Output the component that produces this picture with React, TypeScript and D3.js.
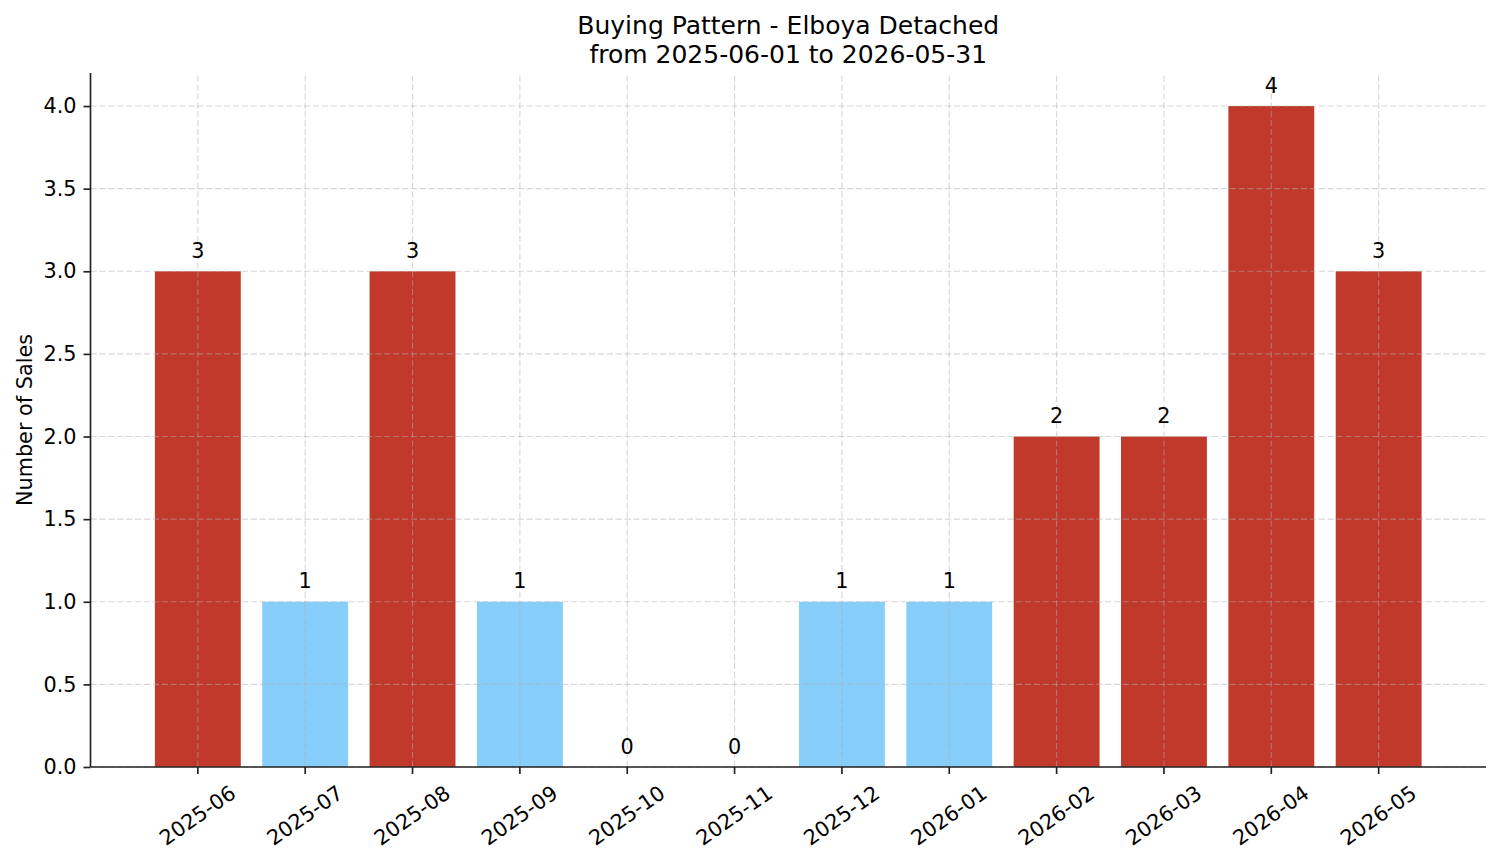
import React, { useEffect, useRef } from 'react';
import * as d3 from 'd3';

const months = [
  '2025-06', '2025-07', '2025-08', '2025-09', '2025-10', '2025-11',
  '2025-12', '2026-01', '2026-02', '2026-03', '2026-04', '2026-05',
];
const sales = [3, 1, 3, 1, 0, 0, 1, 1, 2, 2, 4, 3];
const yTicks = [0, 0.5, 1, 1.5, 2, 2.5, 3, 3.5, 4];

const titleLines = ['Buying Pattern - Elboya Detached', 'from 2025-06-01 to 2026-05-31'];
const yLabel = 'Number of Sales';

const HIGH = '#c0392b';
const LOW = '#87cefa';

const App: React.FC = () => {
  const svgRef = useRef<SVGSVGElement | null>(null);
  const width = 1501;
  const height = 863;
  const marginLeft = 90.5;
  const marginRight = 15;
  const marginTop = 73;
  const marginBottom = 96;
  const font = 'DejaVu Sans, sans-serif';
  const fs = 20.8;

  useEffect(() => {
    const svg = d3.select(svgRef.current);
    svg.selectAll('*').remove();

    const x = d3.scaleLinear()
      .domain([-1, months.length])
      .range([marginLeft, width - marginRight]);
    const y = d3.scaleLinear()
      .domain([0, 4.2])
      .range([height - marginBottom, marginTop]);
    const barW = (x(0.8) - x(0));

    // Bars
    svg.append('g')
      .selectAll('rect')
      .data(sales)
      .join('rect')
      .attr('x', (_, i) => x(i) - barW / 2)
      .attr('y', d => y(d))
      .attr('width', barW)
      .attr('height', d => y(0) - y(d))
      .attr('fill', d => (d >= 2 ? HIGH : LOW));

    // Grid (drawn over bars, like matplotlib)
    const grid = svg.append('g')
      .attr('stroke', '#b0b0b0')
      .attr('stroke-opacity', 0.5)
      .attr('stroke-width', 1.1)
      .attr('stroke-dasharray', '6.2,2.7');
    grid.selectAll('line.h')
      .data(yTicks)
      .join('line')
      .attr('class', 'h')
      .attr('x1', marginLeft)
      .attr('x2', width - marginRight)
      .attr('y1', d => y(d))
      .attr('y2', d => y(d));
    grid.selectAll('line.v')
      .data(months)
      .join('line')
      .attr('class', 'v')
      .attr('x1', (_, i) => x(i))
      .attr('x2', (_, i) => x(i))
      .attr('y1', y(0))
      .attr('y2', marginTop);

    // Value labels
    svg.append('g')
      .selectAll('text')
      .data(sales)
      .join('text')
      .attr('x', (_, i) => x(i))
      .attr('y', d => y(d) - 13.5)
      .attr('text-anchor', 'middle')
      .attr('font-family', font)
      .attr('font-size', fs)
      .attr('fill', '#000')
      .text(d => String(d));

    // Y axis
    const yAxis = svg.append('g')
      .attr('transform', `translate(${marginLeft},0)`)
      .call(d3.axisLeft(y).tickValues(yTicks).tickFormat(d3.format('.1f')).tickSize(7).tickPadding(7).tickSizeOuter(0));
    yAxis.select('.domain').remove();
    yAxis.selectAll('.tick line').attr('stroke', '#222').attr('stroke-width', 1.67);
    yAxis.selectAll('.tick text')
      .attr('font-family', font)
      .attr('font-size', fs)
      .attr('fill', '#000');

    // X axis ticks
    const xTickG = svg.append('g')
      .selectAll('g')
      .data(months)
      .join('g')
      .attr('transform', (_, i) => `translate(${x(i)},${y(0)})`);
    xTickG.append('line')
      .attr('y2', 7)
      .attr('stroke', '#222')
      .attr('stroke-width', 1.67);

    // Rotated labels: matplotlib style (bbox centered at tick, top aligned)
    const theta = (35 * Math.PI) / 180;
    const labelH = fs * 1.164;
    xTickG.append('text')
      .attr('font-family', font)
      .attr('font-size', fs)
      .attr('fill', '#000')
      .attr('text-anchor', 'middle')
      .attr('dy', '0.32em')
      .text(d => d)
      .each(function () {
        const el = this as SVGTextElement;
        const w = el.getComputedTextLength();
        const bboxH = w * Math.sin(theta) + labelH * Math.cos(theta);
        const cy = 7 + 7 + bboxH / 2;
        d3.select(el).attr('transform', `translate(0,${cy}) rotate(-35)`);
      });

    // Spines
    svg.append('line')
      .attr('x1', marginLeft).attr('x2', marginLeft)
      .attr('y1', marginTop).attr('y2', y(0))
      .attr('stroke', '#222').attr('stroke-width', 1.67);
    svg.append('line')
      .attr('x1', marginLeft).attr('x2', width - marginRight)
      .attr('y1', y(0)).attr('y2', y(0))
      .attr('stroke', '#222').attr('stroke-width', 1.67);

    // Y label
    svg.append('text')
      .attr('transform', `translate(32,${(marginTop + y(0)) / 2}) rotate(-90)`)
      .attr('text-anchor', 'middle')
      .attr('font-family', font)
      .attr('font-size', fs)
      .attr('fill', '#000')
      .text(yLabel);

    // Title
    svg.append('g')
      .selectAll('text')
      .data(titleLines)
      .join('text')
      .attr('x', (marginLeft + width - marginRight) / 2)
      .attr('y', (_, i) => 34 + i * 28.5)
      .attr('text-anchor', 'middle')
      .attr('font-family', font)
      .attr('font-size', 25)
      .attr('fill', '#000')
      .text(d => d);
  }, []);

  return (
    <div style={{ position: 'fixed', left: 0, top: 0, width, height, background: '#fff' }}>
      <svg ref={svgRef} width={width} height={height}></svg>
    </div>
  );
};

export default App;
